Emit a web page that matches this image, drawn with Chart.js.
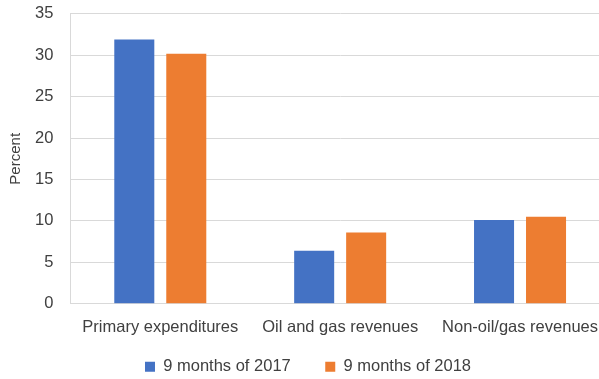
<!DOCTYPE html>
<html>
<head>
<meta charset="utf-8">
<script src="https://cdn.jsdelivr.net/npm/chart.js@4"></script>
<style>
  html, body { margin: 0; padding: 0; background: #fff; overflow: hidden; }
  #wrap { width: 612px; height: 398px; margin-top: -13px; }
</style>
</head>
<body>
<div id="wrap"><canvas id="chart"></canvas></div>
<script>
// categories and series
const categories = ['Primary expenditures', 'Oil and gas revenues', 'Non-oil/gas revenues'];
const series2017 = [31.9, 6.4, 10.1];
const series2018 = [30.2, 8.6, 10.5];
const seriesNames = ['9 months of 2017', '9 months of 2018'];

const textColor = '#404040';
const fontFamily = "'Liberation Sans', Arial, sans-serif";

new Chart(document.getElementById('chart'), {
  type: 'bar',
  data: {
    labels: categories,
    datasets: [
      { label: seriesNames[0], data: series2017, backgroundColor: '#4472C4' },
      { label: seriesNames[1], data: series2018, backgroundColor: '#ED7D31' }
    ]
  },
  options: {
    responsive: true,
    maintainAspectRatio: false,
    animation: false,
    layout: { padding: { left: 4, right: 0, top: 0, bottom: 0 } },
    datasets: { bar: { categoryPercentage: 0.578, barPercentage: 0.77 } },
    plugins: {
      legend: {
        position: 'bottom',
        labels: {
          color: textColor,
          font: { family: fontFamily, size: 16.5 },
          boxWidth: 10,
          boxHeight: 10,
          padding: 7,
          // wider gap between the two entries, like the original
          generateLabels: chart => Chart.defaults.plugins.legend.labels.generateLabels(chart)
            .map((item, i) => i === 0 ? { ...item, text: item.text + '      ' } : item)
        }
      },
      tooltip: { enabled: false }
    },
    scales: {
      x: {
        grid: { display: false, drawTicks: false },
        border: { color: '#d9d9d9' },
        ticks: { color: textColor, font: { family: fontFamily, size: 16.5 }, padding: 14 }
      },
      y: {
        min: 0,
        max: 35,
        ticks: { stepSize: 5, color: textColor, font: { family: fontFamily, size: 16.5 }, padding: 17 },
        grid: { color: '#d9d9d9', drawTicks: false },
        border: { color: '#d9d9d9' },
        title: {
          display: true,
          text: 'Percent',
          color: textColor,
          font: { family: fontFamily, size: 15 },
          padding: { top: 3, bottom: -7 }
        }
      }
    }
  }
});
</script>
</body>
</html>
